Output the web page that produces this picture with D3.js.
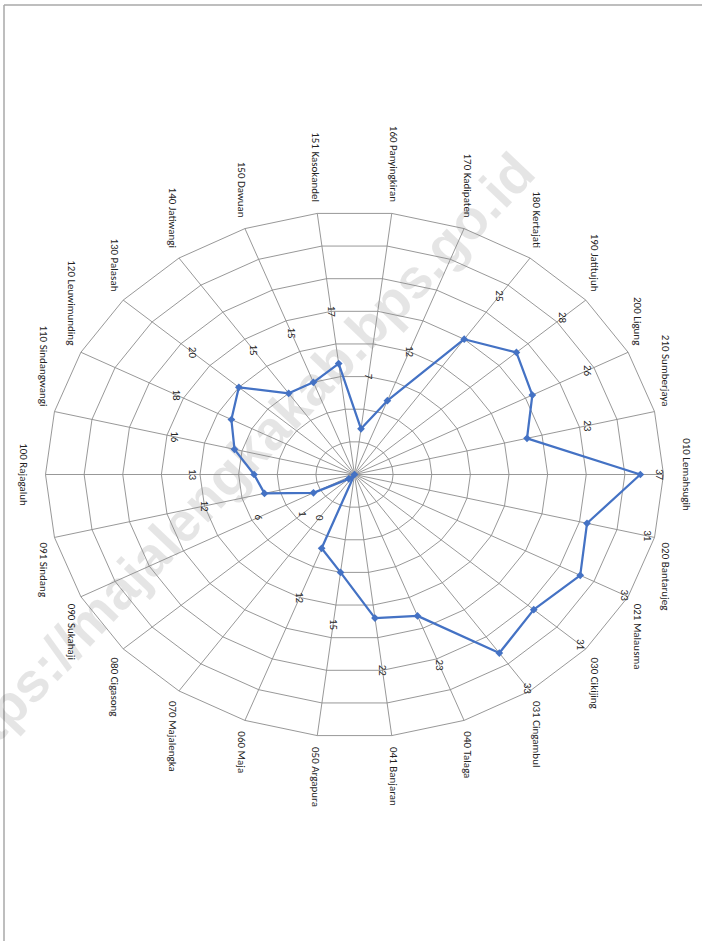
<!DOCTYPE html>
<html><head><meta charset="utf-8">
<script src="https://cdn.jsdelivr.net/npm/d3@7/dist/d3.min.js"></script>
<style>body{margin:0;background:#fff} svg{display:block}</style>
</head><body>
<svg id="chart" width="702" height="941"></svg>
<script>
const categories = ["010 Lemahsugih","020 Bantarujeg","021 Malausma","030 Cikijing","031 Cingambul","040 Talaga","041 Banjaran","050 Argapura","060 Maja","070 Majalengka","080 Cigasong","090 Sukahaji","091 Sindang","100 Rajagaluh","110 Sindangwangi","120 Leuwimunding","130 Palasah","140 Jatiwangi","150 Dawuan","151 Kasokandel","160 Panyingkiran","170 Kadipaten","180 Kertajati","190 Jatitujuh","200 Ligung","210 Sumberjaya"];
const values = [37,31,33,31,33,23,22,15,12,0,1,6,12,13,16,18,20,15,15,17,7,12,25,28,26,23];
const gridLevels = [5,10,15,20,25,30,35,40];
const watermarkText = "https://majalengkakab.bps.go.id";

const svg = d3.select("#chart");
const cx = 354.5, cy = 474.5, RX = 309, RY = 263;
const FONT = "Carlito, Lato, 'Liberation Sans', sans-serif";
const rx = d3.scaleLinear().domain([0, 40]).range([0, RX]);
const ry = d3.scaleLinear().domain([0, 40]).range([0, RY]);
const ang = d3.scaleLinear().domain([0, categories.length]).range([0, 2 * Math.PI]);
const pt = (i, v) => [cx + rx(v) * Math.cos(ang(i)), cy + ry(v) * Math.sin(ang(i))];
const idx = d3.range(categories.length);

// frame lines
svg.append("line").attr("x1", 4).attr("y1", 5).attr("x2", 702).attr("y2", 5).attr("stroke", "#a8a8a8").attr("stroke-width", 1.5);
svg.append("line").attr("x1", 4).attr("y1", 5).attr("x2", 4).attr("y2", 941).attr("stroke", "#a8a8a8").attr("stroke-width", 1.5);

// watermark (behind)
svg.append("text").text(watermarkText)
  .attr("transform", "translate(524,162) rotate(-46.5)")
  .attr("text-anchor", "end").attr("dominant-baseline", "central")
  .attr("font-family", "'Liberation Sans', Arial, sans-serif").attr("font-weight", "bold")
  .attr("font-size", 55).attr("fill", "#000").attr("fill-opacity", 0.1);

const g = svg.append("g");
const lineGen = d3.line().curve(d3.curveLinearClosed);

// rings
g.selectAll(".ring").data(gridLevels).join("path")
  .attr("d", lv => lineGen(idx.map(i => pt(i, lv))))
  .attr("fill", "none").attr("stroke", "#8c8c8c").attr("stroke-width", 0.9);
// spokes
g.selectAll(".spoke").data(idx).join("line")
  .attr("x1", cx).attr("y1", cy)
  .attr("x2", i => pt(i, 40)[0]).attr("y2", i => pt(i, 40)[1])
  .attr("stroke", "#8c8c8c").attr("stroke-width", 0.9);

// series
const blue = "#4472C4";
g.append("path").attr("d", lineGen(idx.map(i => pt(i, values[i]))))
  .attr("fill", "none").attr("stroke", blue).attr("stroke-width", 2.25).attr("stroke-linejoin", "round");
g.selectAll(".mk").data(idx).join("path")
  .attr("d", d3.symbol(d3.symbolSquare, 30))
  .attr("transform", i => `translate(${pt(i, values[i])}) rotate(45)`)
  .attr("fill", blue);

// data labels
g.selectAll(".dl").data(idx).join("text")
  .text(i => values[i])
  .attr("transform", i => `translate(${pt(i, Math.min(values[i] + 8, 39.5))}) rotate(90)`)
  .attr("text-anchor", "middle").attr("dominant-baseline", "central")
  .attr("font-family", FONT).attr("font-size", 11).attr("fill", "#222");

// category labels
g.selectAll(".cl").data(idx).join("text")
  .text(i => categories[i])
  .attr("text-anchor", "middle").attr("dominant-baseline", "central")
  .attr("font-family", FONT).attr("font-size", 11).attr("fill", "#222")
  .attr("transform", function(i) {
    const L = this.getComputedTextLength();
    const [vx, vy] = pt(i, 40);
    const c = Math.cos(ang(i)), s = Math.sin(ang(i));
    let x, y;
    if (Math.abs(s) < 0.05) { x = vx + c * (5.5 + 17); y = vy; }
    else {
      const gy = 3 + 8.5 * Math.abs(s);
      x = vx + 11 * c;
      y = s < 0 ? vy - gy - L / 2 : vy + gy + L / 2;
    }
    return `translate(${x},${y}) rotate(90)`;
  });
</script>
</body></html>
